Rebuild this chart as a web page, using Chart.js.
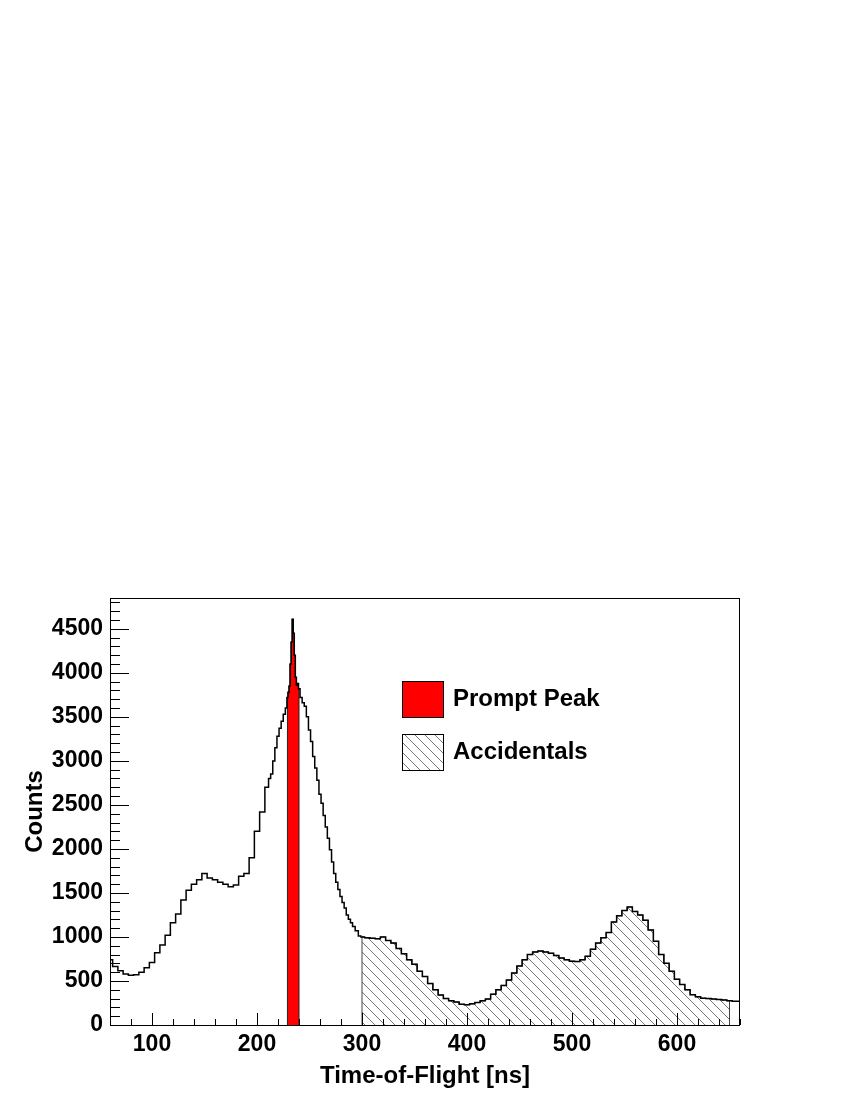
<!DOCTYPE html>
<html>
<head>
<meta charset="utf-8">
<script src="https://cdn.jsdelivr.net/npm/chart.js@4"></script>
<style>
  body { margin: 0; background: #fff; }
  #tof { display: block; }
</style>
</head>
<body>
<canvas id="tof" width="850" height="1100"></canvas>
<script>
// time-of-flight bin centres [ns] and counts
const tof = [
  60, 65, 70, 75, 80, 85, 90, 95, 100, 105, 110, 115, 120, 125, 130, 135, 140, 145,
  150, 155, 160, 165, 170, 175, 180, 185, 190, 195, 200, 205, 210,
  212, 214, 216, 218, 220, 222, 224, 226, 228, 229, 230, 231, 232, 233, 234, 235,
  236, 237, 238, 239, 240, 242, 244, 246, 248, 250, 252, 254, 256, 258, 260, 262,
  264, 266, 268, 270, 272, 274, 276, 278, 280, 282, 284, 286, 288, 290, 292, 295,
  298, 300, 305, 310, 315, 320, 325, 330, 335, 340, 345, 350, 355, 360, 365, 370,
  375, 380, 385, 390, 395, 400, 405, 410, 415, 420, 425, 430, 435, 440, 445, 450,
  455, 460, 465, 470, 475, 480, 485, 490, 495, 500, 505, 510, 515, 520, 525, 530,
  535, 540, 545, 550, 555, 560, 565, 570, 575, 580, 585, 590, 595, 600, 605, 610,
  615, 620, 625, 630, 635, 640, 645, 650, 655, 660
];
const counts = [
  740, 665, 615, 580, 565, 570, 600, 650, 710, 820, 910, 1020, 1160, 1260, 1420, 1530, 1600, 1650,
  1720, 1670, 1650, 1620, 1600, 1570, 1590, 1690, 1720, 1900, 2200, 2420, 2700,
  2800, 2850, 3000, 3150, 3280, 3370, 3450, 3530, 3600, 3720, 3780, 3850, 4100, 4350, 4610, 4450,
  4200, 3950, 3860, 3880, 3820, 3720, 3660, 3620, 3500, 3350, 3220, 3050, 2920, 2780, 2620, 2520,
  2380, 2250, 2120, 1990, 1850, 1720, 1620, 1540, 1460, 1390, 1330, 1250, 1200, 1160, 1120, 1070,
  1010, 1000, 990, 985, 980, 1000, 960, 930, 870, 810, 740, 690, 610, 550, 470, 400,
  340, 300, 275, 260, 235, 230, 240, 255, 275, 295, 350, 400, 450, 510, 590, 670,
  740, 800, 830, 840, 830, 815, 790, 760, 740, 725, 720, 740, 780, 860, 930, 990,
  1050, 1170, 1240, 1300, 1340, 1290, 1250, 1190, 1080, 950, 800, 700, 610, 520, 460, 400,
  345, 320, 305, 300, 295, 290, 285, 275, 270, 270
];

const promptWindow = [229, 240];
const accidentalWindow = [300, 650];

const xRange = [60, 660];
const yRange = [0, 4850];
const xTickValues = [100, 200, 300, 400, 500, 600];
const yTickValues = [0, 500, 1000, 1500, 2000, 2500, 3000, 3500, 4000, 4500];

const FONT = '"Liberation Sans", Arial, Helvetica, sans-serif';

function windowPoints(lo, hi) {
  const pts = [{x: lo, y: 0}];
  tof.forEach((t, i) => {
    if (t >= lo && t <= hi) pts.push({x: t, y: counts[i]});
  });
  pts.push({x: hi, y: 0});
  return pts;
}

function makeHatch(color) {
  const c = document.createElement('canvas');
  c.width = 10; c.height = 10;
  const g = c.getContext('2d');
  g.strokeStyle = color;
  g.lineWidth = 1;
  g.beginPath();
  g.moveTo(0, 0); g.lineTo(10, 10);
  g.moveTo(-5, 5); g.lineTo(5, 15);
  g.moveTo(5, -5); g.lineTo(15, 5);
  g.stroke();
  return g.createPattern(c, 'repeat');
}
const hatch = makeHatch('#777');

// ROOT-style frame with ticks pointing inward
const framePlugin = {
  id: 'frame',
  afterDatasetsDraw(chart) {
    const {ctx, chartArea: a, scales: {x, y}} = chart;
    ctx.save();
    ctx.strokeStyle = '#000';
    ctx.lineWidth = 1;
    ctx.beginPath();
    for (let v = 0; v <= yRange[1]; v += 100) {
      const py = Math.round(y.getPixelForValue(v)) + 0.5;
      const len = v % 500 === 0 ? 19 : 10;
      ctx.moveTo(a.left, py); ctx.lineTo(a.left + len, py);
    }
    for (let v = 60; v <= xRange[1]; v += 20) {
      const px = Math.round(x.getPixelForValue(v)) + 0.5;
      const len = v % 100 === 0 ? 12 : 6;
      ctx.moveTo(px, a.bottom); ctx.lineTo(px, a.bottom - len);
    }
    ctx.stroke();
    ctx.strokeRect(a.left + 0.5, a.top + 0.5, a.right - a.left - 1, a.bottom - a.top);
    ctx.restore();
  }
};

const legendItems = [
  {label: 'Prompt Peak', fill: '#ff0000', top: 681},
  {label: 'Accidentals', fill: hatch, top: 734}
];

const legendPlugin = {
  id: 'boxLegend',
  afterDraw(chart) {
    const ctx = chart.ctx;
    ctx.save();
    legendItems.forEach(item => {
      ctx.fillStyle = '#fff';
      ctx.fillRect(402, item.top, 41, 36);
      ctx.fillStyle = item.fill;
      ctx.fillRect(402, item.top, 41, 36);
      ctx.strokeStyle = '#000';
      ctx.lineWidth = 1;
      ctx.strokeRect(402.5, item.top + 0.5, 41, 36);
      ctx.fillStyle = '#000';
      ctx.font = 'bold 24px ' + FONT;
      ctx.textBaseline = 'middle';
      ctx.textAlign = 'left';
      ctx.fillText(item.label, 453, item.top + 18);
    });
    ctx.restore();
  }
};

new Chart(document.getElementById('tof'), {
  type: 'line',
  data: {
    datasets: [
      {
        label: 'ToF',
        data: tof.map((t, i) => ({x: t, y: counts[i]})),
        borderColor: '#000',
        borderWidth: 1.5,
        stepped: 'middle',
        pointRadius: 0,
        fill: false
      },
      {
        label: 'Prompt Peak',
        data: windowPoints(promptWindow[0], promptWindow[1]),
        borderColor: '#222',
        borderWidth: 1,
        backgroundColor: '#ff0000',
        stepped: 'middle',
        pointRadius: 0,
        fill: 'origin'
      },
      {
        label: 'Accidentals',
        data: windowPoints(accidentalWindow[0], accidentalWindow[1]),
        borderColor: '#444',
        borderWidth: 1,
        backgroundColor: hatch,
        stepped: 'middle',
        pointRadius: 0,
        fill: 'origin'
      }
    ]
  },
  options: {
    responsive: false,
    animation: false,
    devicePixelRatio: 1,
    layout: {padding: {top: 598, right: 110, left: 0, bottom: 0}},
    plugins: {legend: {display: false}, tooltip: {enabled: false}},
    scales: {
      x: {
        type: 'linear',
        min: xRange[0],
        max: xRange[1],
        grid: {display: false, drawTicks: false},
        border: {display: false},
        afterBuildTicks(scale) { scale.ticks = xTickValues.map(v => ({value: v})); },
        ticks: {
          color: '#000',
          padding: 6,
          maxRotation: 0,
          autoSkip: false,
          callback: v => String(v),
          font: {family: FONT, size: 23, weight: 'bold'}
        },
        title: {
          display: true,
          text: 'Time-of-Flight [ns]',
          color: '#000',
          padding: {top: 0, bottom: 9},
          font: {family: FONT, size: 24, weight: 'bold'}
        },
        afterFit(scale) { scale.height = 75; }
      },
      y: {
        type: 'linear',
        min: yRange[0],
        max: yRange[1],
        grid: {display: false, drawTicks: false},
        border: {display: false},
        afterBuildTicks(scale) { scale.ticks = yTickValues.map(v => ({value: v})); },
        ticks: {
          color: '#000',
          padding: 7,
          autoSkip: false,
          callback: v => String(v),
          font: {family: FONT, size: 23, weight: 'bold'}
        },
        title: {
          display: true,
          text: 'Counts',
          color: '#000',
          padding: {top: 21, bottom: 0},
          font: {family: FONT, size: 24, weight: 'bold'}
        },
        afterFit(scale) { scale.width = 110; }
      }
    }
  },
  plugins: [framePlugin, legendPlugin]
});
</script>
</body>
</html>
